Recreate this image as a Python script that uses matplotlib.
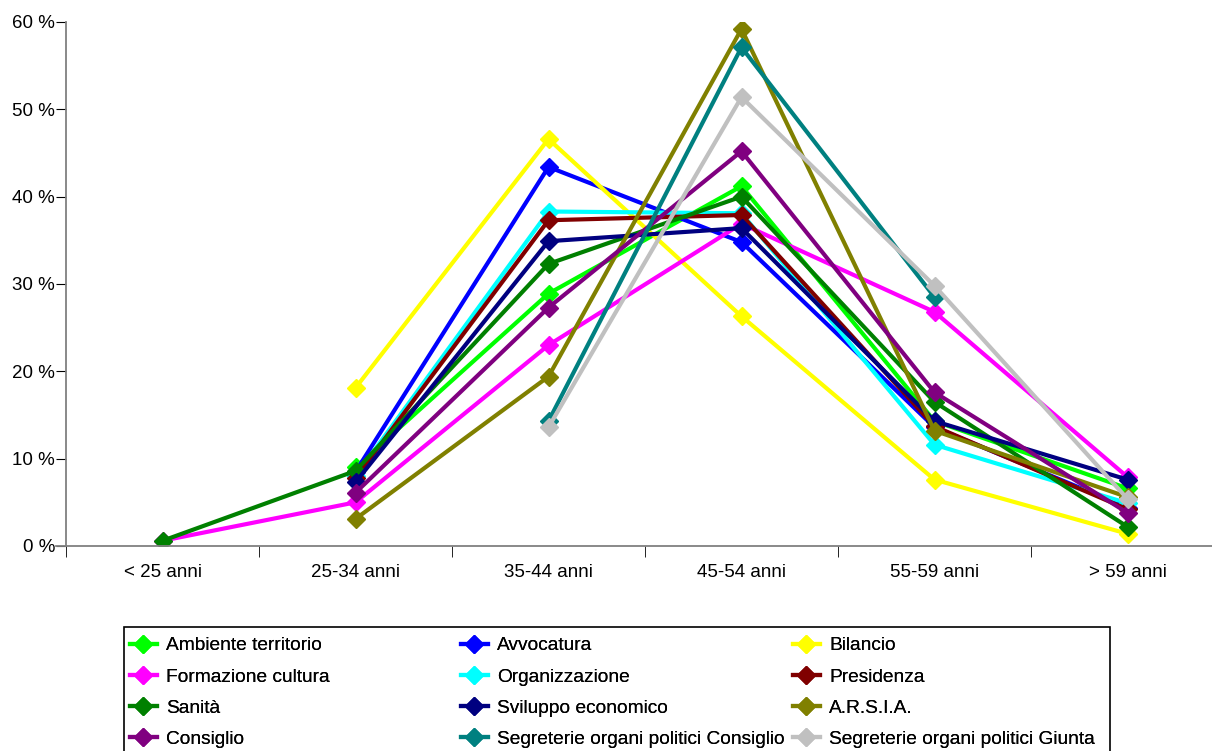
import numpy as np
import matplotlib.pyplot as plt
from matplotlib.patches import Rectangle

plt.rcParams['font.family'] = ['Liberation Sans', 'DejaVu Sans']

categorie = ["< 25 anni", "25-34 anni", "35-44 anni", "45-54 anni", "55-59 anni", "> 59 anni"]
nan = np.nan

ambiente = [nan, 9.0, 28.9, 41.2, 14.3, 6.6]
avvocatura = [nan, 8.5, 43.4, 34.8, 13.6, 4.4]
bilancio = [nan, 18.1, 46.6, 26.3, 7.6, 1.4]
formazione = [0.6, 5.0, 23.0, 36.9, 26.8, 7.9]
organizzazione = [nan, 8.0, 38.3, 38.1, 11.6, 4.9]
presidenza = [nan, 7.8, 37.3, 37.9, 13.7, 4.2]
sanita = [0.6, 8.6, 32.3, 40.0, 16.5, 2.2]
sviluppo = [nan, 7.3, 34.9, 36.4, 14.3, 7.6]
arsia = [nan, 3.1, 19.4, 59.2, 13.2, 5.6]
consiglio = [nan, 6.1, 27.3, 45.2, 17.6, 3.8]
seg_consiglio = [nan, nan, 14.3, 57.1, 28.5, nan]
seg_giunta = [nan, nan, 13.6, 51.4, 29.8, 5.4]

serie = [
    ("Ambiente territorio", ambiente, "#00FF00"),
    ("Avvocatura", avvocatura, "#0000FF"),
    ("Bilancio", bilancio, "#FFFF00"),
    ("Formazione cultura", formazione, "#FF00FF"),
    ("Organizzazione", organizzazione, "#00FFFF"),
    ("Presidenza", presidenza, "#800000"),
    ("Sanità", sanita, "#008000"),
    ("Sviluppo economico", sviluppo, "#000080"),
    ("A.R.S.I.A.", arsia, "#808000"),
    ("Consiglio", consiglio, "#800080"),
    ("Segreterie organi politici Consiglio", seg_consiglio, "#008080"),
    ("Segreterie organi politici Giunta", seg_giunta, "#C0C0C0"),
]

W, H = 1212, 751
fig = plt.figure(figsize=(W/100, H/100), dpi=100)
# l'asse x prosegue oltre il bordo destro
ax = fig.add_axes([66/W, 205/H, 1158/W, 524/H])

x = np.arange(len(categorie))
handles = []
for nome, vals, col in serie:
    y = np.array(vals, dtype=float)
    m = ~np.isnan(y)
    h, = ax.plot(x[m], y[m], color=col, lw=3, marker="D", markersize=9.5, label=nome)
    handles.append(h)

ax.set_xlim(-0.5, 5.5)
ax.set_ylim(0, 60)
ax.set_yticks(range(0, 61, 10))
ax.set_yticklabels([f"{v} %" for v in range(0, 61, 10)], fontsize=13.5)
ax.set_xticks(x)
ax.set_xticklabels(categorie, fontsize=13.5)
ax.tick_params(axis="x", which="major", length=0, pad=13)
ax.set_xticks(np.arange(-0.5, 5.5, 1), minor=True)
ax.tick_params(axis="x", which="minor", length=8, color="black")
ax.tick_params(axis="y", length=7.5, pad=0.5, color="black")
for s in ["top", "right"]:
    ax.spines[s].set_visible(False)
for s in ["left", "bottom"]:
    ax.spines[s].set_color("#808080")
    ax.spines[s].set_linewidth(1.3)
ax.spines["bottom"].set_bounds(-0.55, 5.5)

# legenda: tre colonne, righe nell'ordine della legenda originale
x_col = [130, 461, 793]
top = 1 - 637/H
for c in range(3):
    idx = [c, c + 3, c + 6, c + 9]
    leg = fig.legend([handles[i] for i in idx], [serie[i][0] for i in idx],
                     loc="upper left", bbox_to_anchor=(x_col[c]/W, top),
                     frameon=False, fontsize=13.8, handlelength=1.4,
                     handletextpad=0.5, labelspacing=0.72, borderpad=0,
                     borderaxespad=0)
    fig.add_artist(leg)
fig.patches.append(Rectangle((124/W, -0.05), (1110 - 124)/W, 1 - 627/H + 0.05,
                             transform=fig.transFigure, fill=False,
                             edgecolor="black", lw=1.2))

plt.savefig("out.png", dpi=100)
